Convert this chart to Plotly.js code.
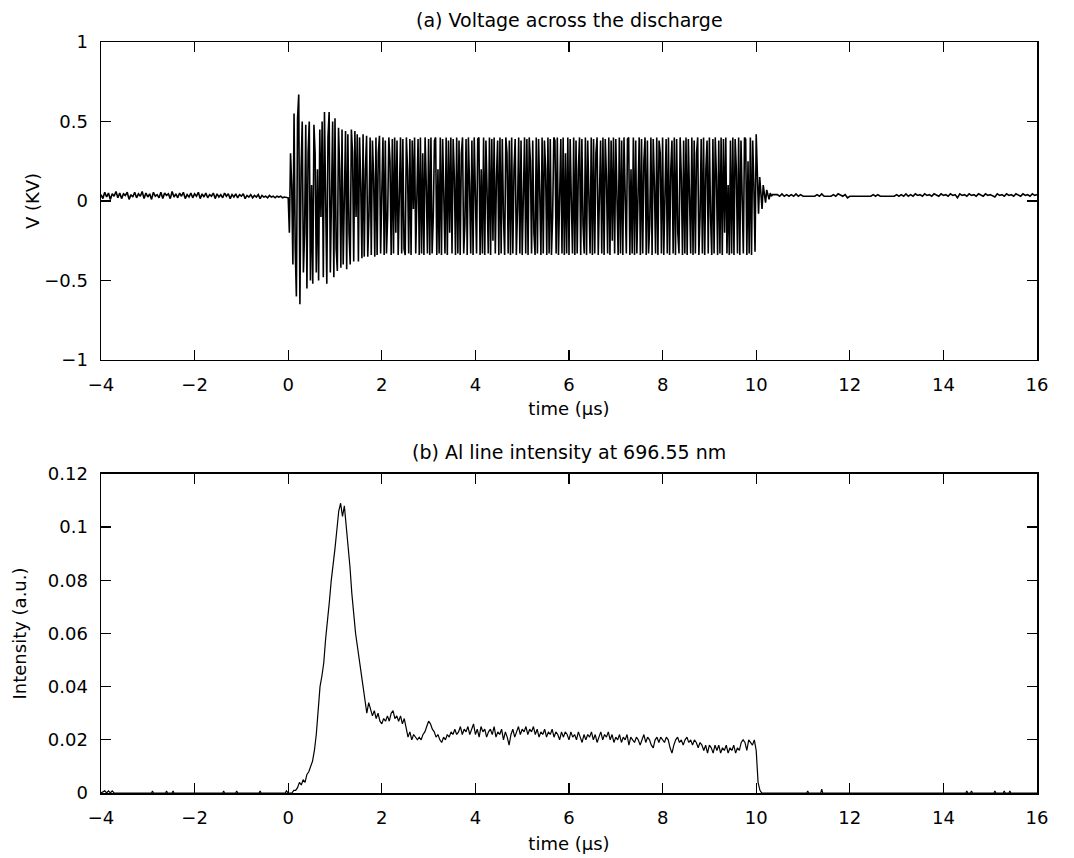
<!DOCTYPE html>
<html><head><meta charset="utf-8">
<script src="https://cdn.plot.ly/plotly-3.0.1.min.js"></script>
<style>html,body{margin:0;padding:0;background:#fff}</style>
</head><body><div id="chart" style="width:1074px;height:858px"></div>
<script>
// ---------- (a) Voltage across the discharge (kV), sampled traces ----------
const voltPreStart = -4.0, voltPreStep = 0.04;
const voltPre = [
0.040,0.015,0.055,0.025,0.050,0.010,0.045,0.030,0.060,0.020,
0.050,0.015,0.045,0.035,0.055,0.010,0.040,0.025,0.055,0.020,
0.045,0.030,0.060,0.015,0.050,0.025,0.045,0.010,0.055,0.030,
0.040,0.020,0.055,0.015,0.050,0.035,0.045,0.015,0.060,0.025,
0.045,0.020,0.050,0.030,0.055,0.015,0.040,0.025,0.050,0.020,
0.045,0.030,0.055,0.015,0.045,0.025,0.050,0.020,0.040,0.030,
0.050,0.015,0.045,0.025,0.040,0.020,0.050,0.030,0.045,0.015,
0.040,0.025,0.045,0.020,0.040,0.030,0.045,0.015,0.035,0.025,
0.040,0.020,0.035,0.025,0.040,0.015,0.035,0.025,0.030,0.020,
0.035,0.025,0.030,0.020,0.030,0.025,0.030,0.020,0.025,0.020];
const voltMainStart = 0.0, voltMainStep = 0.025;
const voltMain = [
0.02,-0.20,0.30,0.10,-0.40,0.55,-0.30,-0.60,0.52,0.67,-0.65,0.20,0.50,-0.45,-0.20,0.48,-0.55,0.30,0.50,-0.50,
0.10,-0.52,0.48,0.30,-0.45,0.20,-0.50,0.45,-0.10,0.50,-0.48,0.56,-0.20,-0.52,0.40,0.56,-0.45,0.10,0.50,-0.48,
0.52,-0.30,-0.44,0.46,0.20,-0.42,0.45,-0.40,0.10,0.44,-0.43,0.42,-0.20,-0.40,0.45,0.30,-0.38,0.44,-0.10,0.42,
-0.38,0.40,0.10,-0.36,0.42,-0.35,0.20,0.41,-0.35,-0.10,0.40,-0.34,0.38,0.15,-0.35,0.40,-0.34,0.30,0.41,-0.33,
0.05,0.40,-0.34,0.38,-0.33,-0.10,0.40,0.25,-0.34,0.39,-0.33,0.40,-0.20,0.38,-0.34,0.10,0.40,-0.33,0.39,-0.30,
-0.34,0.40,0.20,-0.33,0.39,-0.34,0.38,-0.05,0.40,-0.33,0.15,0.39,-0.34,0.40,-0.33,0.30,-0.34,0.40,0.10,-0.33,
0.39,-0.34,0.40,-0.33,-0.10,0.38,0.40,-0.34,0.20,-0.33,0.40,-0.34,0.39,0.00,-0.33,0.40,-0.34,0.38,-0.20,0.40,
-0.33,0.39,0.15,-0.34,0.40,-0.33,0.38,-0.34,0.30,0.40,-0.33,-0.15,0.39,-0.34,0.40,0.10,-0.33,0.38,-0.34,0.40,
-0.05,-0.33,0.39,0.40,-0.34,0.20,-0.33,0.40,-0.34,0.38,0.05,-0.33,0.40,-0.34,0.39,-0.25,0.40,-0.33,0.15,0.38,
-0.34,0.40,-0.33,0.39,-0.10,-0.34,0.40,0.30,-0.33,0.38,-0.34,0.40,-0.33,0.20,0.39,-0.34,-0.05,0.40,-0.33,0.38,
-0.34,0.10,0.40,-0.33,0.39,-0.34,0.40,0.25,-0.33,0.38,-0.20,-0.34,0.40,-0.33,0.39,0.05,-0.34,0.40,-0.33,0.38,
0.20,-0.34,0.40,-0.33,0.39,-0.34,-0.10,0.40,0.38,-0.33,0.40,-0.34,0.15,0.39,-0.33,0.40,-0.34,0.30,-0.33,0.40,
-0.34,0.39,0.00,-0.33,0.40,-0.34,0.38,-0.33,0.20,0.40,-0.34,0.39,-0.15,-0.33,0.40,-0.34,0.38,0.10,-0.33,0.40,
-0.34,0.39,-0.33,0.30,0.40,-0.34,-0.05,0.38,-0.33,0.40,-0.34,0.39,0.15,-0.33,0.40,-0.34,0.38,-0.25,0.40,-0.33,
0.39,0.10,-0.34,0.40,-0.33,0.38,-0.34,0.40,-0.10,-0.33,0.39,0.40,-0.34,0.20,-0.33,0.40,-0.34,0.38,-0.33,0.05,
0.40,-0.34,0.39,-0.33,0.25,0.40,-0.34,0.38,-0.33,-0.15,0.40,-0.34,0.39,0.10,-0.33,0.40,-0.34,0.38,0.30,-0.33,
0.40,-0.34,-0.05,0.39,-0.33,0.40,-0.34,0.20,0.38,-0.33,0.40,-0.34,0.39,-0.20,-0.33,0.40,0.15,-0.34,0.38,-0.33,
0.40,-0.34,0.39,0.05,-0.33,0.40,-0.34,0.38,-0.33,0.30,0.40,-0.34,-0.10,0.39,-0.33,0.40,-0.34,0.20,0.38,-0.33,
0.40,-0.10,-0.34,0.39,-0.33,0.40,0.15,-0.34,0.38,-0.33,0.40,-0.34,0.39,-0.20,0.40,-0.33,0.10,-0.34,0.38,-0.33,
0.40,-0.34,0.39,0.20,-0.33,0.40,-0.34,0.38,-0.10,-0.33,0.40,0.39,-0.34,0.25,-0.33,0.40,-0.34,0.38,0.10,-0.32];
const voltRingStart = 10.0, voltRingStep = 0.025;
const voltRing = [0.42,0.10,-0.08,0.15,0.05,-0.05,0.10,0.02,-0.01,0.07,0.03,0.01,0.05,0.03,0.04];
const voltPostStart = 10.45, voltPostStep = 0.05;
const voltPost = [
0.04,0.03,0.045,0.03,0.04,0.03,0.04,0.03,0.045,0.03,0.04,0.03,
0.03,0.03,0.03,0.03,0.03,
0.04,0.03,0.045,0.03,0.03,
0.03,0.03,
0.04,0.03,0.045,0.04,0.03,0.04,0.02,
0.03,0.03,0.03,0.03,0.03,0.03,0.03,0.03,0.03,0.03,
0.04,0.03,0.04,
0.03,0.03,0.03,0.03,0.03,0.03,0.03,
0.04,0.03,0.04,0.03,0.045,0.03,0.04,0.03,0.045,0.035,
0.04,0.03,0.045,0.035,0.04,0.03,0.045,0.04,0.03,0.045,
0.035,0.04,0.03,0.045,0.035,0.04,0.02,0.045,0.035,0.04,
0.03,0.045,0.035,0.04,0.03,0.045,0.04,0.03,0.045,0.035,
0.04,0.03,0.025,0.045,0.035,0.04,0.03,0.045,0.035,0.04,
0.03,0.045,0.04,0.03,0.045,0.035,0.04,0.03,0.045,0.035,
0.04];

// ---------- (b) Al line intensity at 696.55 nm (a.u.) ----------
const intPreT = [-4.00,-3.92,-3.88,-3.84,-3.80,-3.76,-3.72,-2.92,-2.90,-2.88,-2.62,-2.60,-2.58,-2.48,-2.46,-2.44,-1.40,-1.38,-1.36,-1.12,-1.10,-1.08,-0.62,-0.60,-0.58,-0.06,-0.04];
const intPreV = [0,0.0008,0,0.0008,0,0.0008,0,0,0.0008,0,0,0.0008,0,0,0.0008,0,0,0.0008,0,0,0.0008,0,0,0.0008,0,0,0.0008];
const intMainStart = 0.0, intMainStep = 0.04;
const intMain = [
0.000,0.000,0.000,0.001,0.001,0.002,0.004,0.003,0.005,0.004,
0.007,0.008,0.010,0.012,0.016,0.022,0.031,0.040,0.044,0.049,
0.058,0.064,0.072,0.080,0.085,0.092,0.099,0.106,0.109,0.104,
0.108,0.101,0.093,0.085,0.075,0.067,0.060,0.055,0.049,0.045,
0.040,0.034,0.030,0.034,0.031,0.029,0.031,0.028,0.030,0.027,
0.026,0.028,0.027,0.029,0.027,0.030,0.031,0.028,0.029,0.027,
0.029,0.026,0.028,0.024,0.021,0.023,0.020,0.022,0.021,0.020,
0.021,0.020,0.022,0.023,0.025,0.027,0.026,0.024,0.023,0.021,
0.022,0.020,0.019,0.021,0.020,0.022,0.021,0.023,0.022,0.024,
0.022,0.023,0.025,0.022,0.024,0.023,0.025,0.022,0.024,0.026,
0.022,0.024,0.021,0.025,0.023,0.024,0.021,0.023,0.024,0.022,
0.025,0.021,0.023,0.022,0.024,0.020,0.023,0.021,0.018,0.022,
0.024,0.021,0.023,0.025,0.022,0.024,0.023,0.025,0.022,0.024,
0.023,0.025,0.022,0.024,0.021,0.023,0.022,0.024,0.021,0.023,
0.022,0.024,0.021,0.023,0.022,0.020,0.023,0.021,0.023,0.022,
0.020,0.023,0.021,0.022,0.020,0.023,0.021,0.019,0.022,0.020,
0.022,0.021,0.023,0.020,0.022,0.019,0.021,0.023,0.020,0.022,
0.021,0.023,0.020,0.022,0.019,0.021,0.020,0.022,0.019,0.021,
0.020,0.022,0.018,0.021,0.020,0.019,0.021,0.020,0.018,0.020,
0.022,0.019,0.021,0.020,0.018,0.017,0.020,0.021,0.019,0.021,
0.020,0.019,0.021,0.020,0.017,0.015,0.018,0.020,0.021,0.019,
0.020,0.018,0.020,0.021,0.019,0.020,0.018,0.020,0.019,0.017,
0.019,0.018,0.016,0.018,0.015,0.018,0.017,0.015,0.018,0.016,
0.018,0.015,0.017,0.016,0.018,0.015,0.017,0.016,0.018,0.015,
0.017,0.016,0.019,0.020,0.019,0.016,0.020,0.019,0.018,0.020,
0.016,0.004,0.001,0.000,0.000];
const intPostT = [10.20,11.08,11.10,11.12,11.38,11.40,11.42,14.48,14.50,14.52,14.58,14.60,14.62,15.08,15.10,15.12,15.28,15.30,15.32,15.40,15.42,15.44,16.00];
const intPostV = [0,0,0.0008,0,0,0.0015,0,0,0.0008,0,0,0.0008,0,0,0.0008,0,0,0.0008,0,0,0.0008,0,0];

// ---------- text ----------
const titleA = '(a) Voltage across the discharge';
const titleB = '(b) Al line intensity at 696.55 nm';
const xTitle = 'time (µs)';
const yTitleA = 'V (KV)';
const yTitleB = 'Intensity (a.u.)';

// sample-time grid of a recorded trace segment
function sampleTimes(start, step, vals) {
  return vals.map((_, i) => Math.round((start + i * step) * 10000) / 10000);
}

const vT = [].concat(
  sampleTimes(voltPreStart, voltPreStep, voltPre),
  sampleTimes(voltMainStart, voltMainStep, voltMain),
  sampleTimes(voltRingStart, voltRingStep, voltRing),
  sampleTimes(voltPostStart, voltPostStep, voltPost));
const vV = [].concat(voltPre, voltMain, voltRing, voltPost);

const iT = [].concat(intPreT, sampleTimes(intMainStart, intMainStep, intMain), intPostT);
const iV = [].concat(intPreV, intMain, intPostV);

const FONT = 'DejaVu Sans, Liberation Sans, Arial, sans-serif';

const traces = [
  {x: vT, y: vV, type: 'scatter', mode: 'lines', line: {color: '#000', width: 1.6}, xaxis: 'x', yaxis: 'y', hoverinfo: 'skip'},
  {x: iT, y: iV, type: 'scatter', mode: 'lines', line: {color: '#000', width: 1.2}, xaxis: 'x2', yaxis: 'y2', hoverinfo: 'skip'}
];

const axisBase = {
  showline: true, linecolor: '#000', linewidth: 1.5, mirror: 'ticks',
  ticks: 'inside', ticklen: 10, tickwidth: 1.3, tickcolor: '#000',
  showgrid: false, zeroline: false, ticklabelstandoff: 8,
  tickfont: {family: FONT, size: 18, color: '#000'}
};
const titleFont = {family: FONT, size: 18, color: '#000'};

const layout = {
  width: 1074, height: 858,
  margin: {l: 101, r: 37, t: 42, b: 65},
  paper_bgcolor: '#fff', plot_bgcolor: '#fff',
  showlegend: false,
  xaxis: Object.assign({}, axisBase, {range: [-4, 16], tick0: 0, dtick: 2, anchor: 'y', domain: [0, 1],
    title: {text: xTitle, font: titleFont, standoff: 8}}),
  yaxis: Object.assign({}, axisBase, {range: [-1, 1], tick0: 0, dtick: 0.5, anchor: 'x', domain: [0.5766, 1],
    title: {text: yTitleA, font: titleFont, standoff: 0}}),
  xaxis2: Object.assign({}, axisBase, {range: [-4, 16], tick0: 0, dtick: 2, anchor: 'y2', domain: [0, 1],
    title: {text: xTitle, font: titleFont, standoff: 10}}),
  yaxis2: Object.assign({}, axisBase, {range: [0, 0.12], tick0: 0, dtick: 0.02, anchor: 'x2', domain: [0, 0.4248],
    title: {text: yTitleB, font: titleFont, standoff: 16}}),
  annotations: [
    {text: titleA, xref: 'paper', yref: 'paper', x: 0.5, y: 1.0297, xanchor: 'center', yanchor: 'middle',
     showarrow: false, font: {family: FONT, size: 19, color: '#000'}},
    {text: titleB, xref: 'paper', yref: 'paper', x: 0.5, y: 0.454, xanchor: 'center', yanchor: 'middle',
     showarrow: false, font: {family: FONT, size: 19, color: '#000'}}
  ]
};

Plotly.newPlot('chart', traces, layout, {staticPlot: true, displayModeBar: false});
</script></body></html>
